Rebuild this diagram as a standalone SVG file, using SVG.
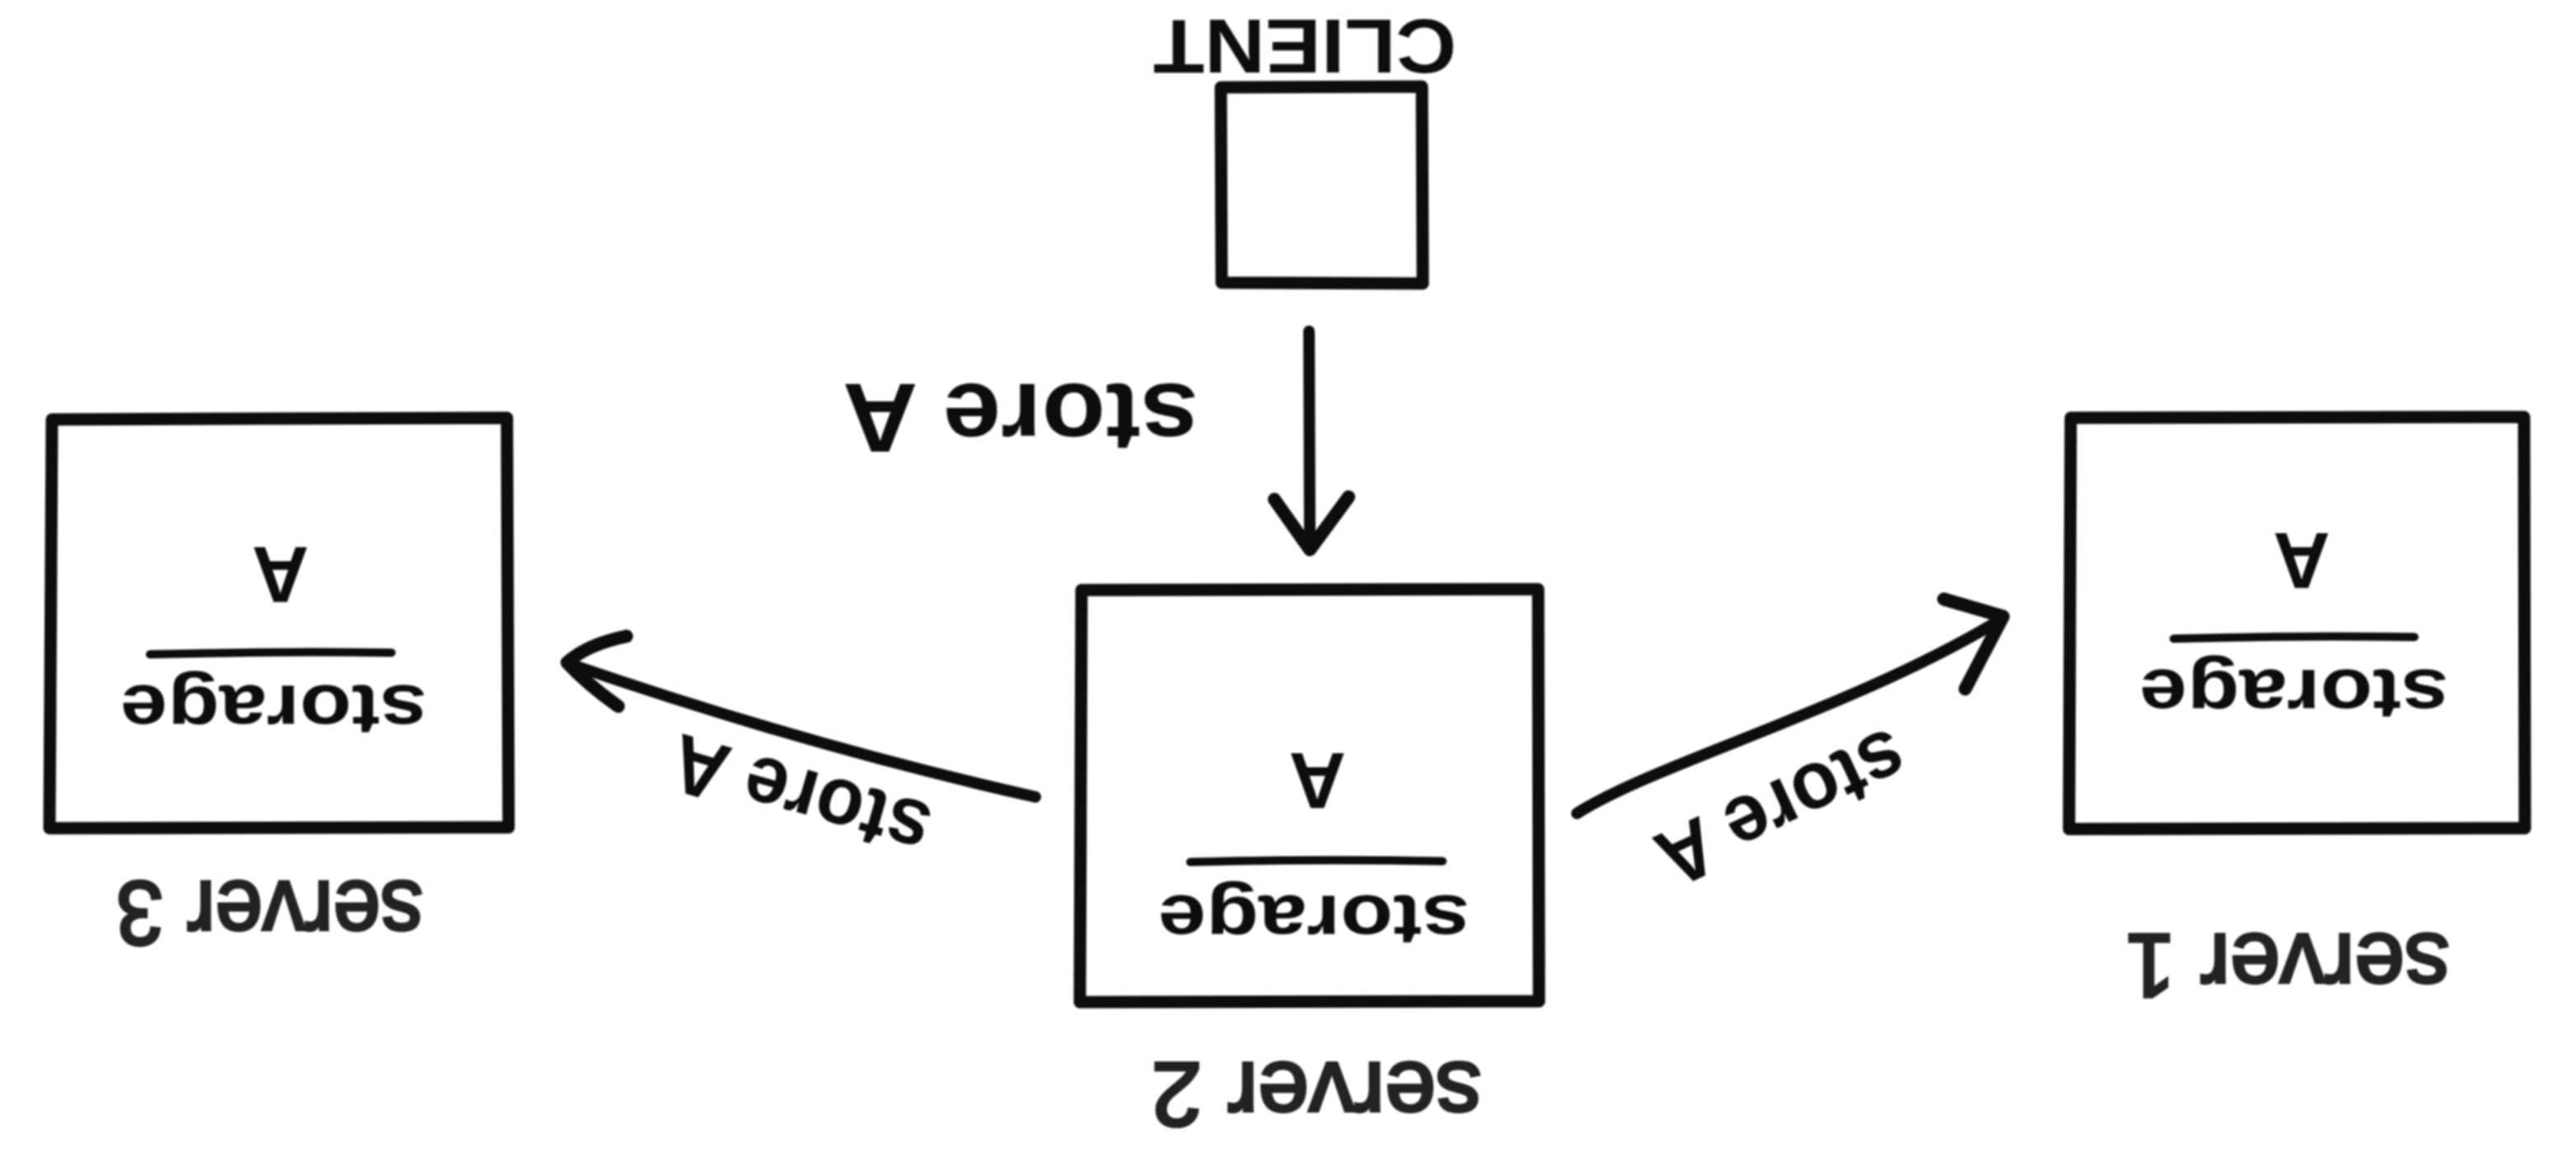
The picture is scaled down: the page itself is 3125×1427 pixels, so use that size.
<svg xmlns="http://www.w3.org/2000/svg" width="3125" height="1427" viewBox="0 0 3125 1427">
  <defs>
    <filter id="soft" x="-2%" y="-2%" width="104%" height="104%">
      <feGaussianBlur stdDeviation="1.2"/>
    </filter>
    <style>
      .box { fill: none; stroke: #111; stroke-width: 15; stroke-linejoin: round; stroke-linecap: round; }
      .rule { fill: none; stroke: #111; stroke-width: 10; stroke-linecap: round; }
      .wire { fill: none; stroke: #111; stroke-width: 14; stroke-linecap: round; stroke-linejoin: round; }
      .head { fill: none; stroke: #111; stroke-width: 16; stroke-linecap: round; stroke-linejoin: round; }
      .hand { font-family: "Liberation Sans", "DejaVu Sans", sans-serif; font-weight: bold; fill: #111; text-anchor: middle; }
      .name { font-family: "Liberation Sans", "DejaVu Sans", sans-serif; font-weight: normal; fill: #222; stroke: #222; stroke-width: 4; text-anchor: middle; }
    </style>
  </defs>
  <rect width="3125" height="1427" fill="#fff"/>
  <g filter="url(#soft)">
    <!-- client -->
    <g id="client">
      <path class="box" d="M1481,106 L1725,105 L1726,344 L1482,343 Z"/>
      <text class="hand" font-size="93" textLength="368" lengthAdjust="spacingAndGlyphs" transform="translate(1583 24) rotate(180)">CLIENT</text>
    </g>

    <!-- server 3 -->
    <g id="server3">
      <path class="box" d="M63,509 L615,507 L617,1004 L60,1005 Z"/>
      <text class="hand" font-size="96" transform="translate(340 698) rotate(180)" y="34">A</text>
      <path class="rule" d="M182,794 Q330,790 475,792"/>
      <text class="hand" font-size="88" textLength="372" lengthAdjust="spacingAndGlyphs" transform="translate(332 855) rotate(180)" y="23">storage</text>
      <text class="name" font-size="110" textLength="372" lengthAdjust="spacingAndGlyphs" transform="translate(327 1100) rotate(180)" y="30">server 3</text>
    </g>

    <!-- server 2 -->
    <g id="server2">
      <path class="box" d="M1312,716 L1866,715 L1867,1215 L1310,1216 Z"/>
      <text class="hand" font-size="96" transform="translate(1598 948) rotate(180)" y="34">A</text>
      <path class="rule" d="M1444,1046 Q1600,1042 1750,1045"/>
      <text class="hand" font-size="88" textLength="378" lengthAdjust="spacingAndGlyphs" transform="translate(1594 1110) rotate(180)" y="23">storage</text>
      <text class="name" font-size="110" textLength="400" lengthAdjust="spacingAndGlyphs" transform="translate(1597 1320) rotate(180)" y="30">server 2</text>
    </g>

    <!-- server 1 -->
    <g id="server1">
      <path class="box" d="M2512,507 L3062,506 L3063,1005 L2510,1006 Z"/>
      <text class="hand" font-size="96" transform="translate(2792 681) rotate(180)" y="34">A</text>
      <path class="rule" d="M2637,775 Q2780,771 2929,773"/>
      <text class="hand" font-size="88" textLength="375" lengthAdjust="spacingAndGlyphs" transform="translate(2783 836) rotate(180)" y="23">storage</text>
      <text class="name" font-size="110" textLength="393" lengthAdjust="spacingAndGlyphs" transform="translate(2775 1164) rotate(180)" y="30">server 1</text>
    </g>

    <!-- connectors -->
    <g id="connectors">
      <!-- client to server 2 -->
      <path class="wire" d="M1588,402 L1589,664"/>
      <path class="head" d="M1546,606 L1589,667 L1636,603"/>
      <text class="hand" font-size="118" textLength="432" lengthAdjust="spacingAndGlyphs" transform="translate(1238 466) rotate(180)">store A</text>

      <!-- server 2 to server 3 -->
      <path class="wire" d="M1256,967 Q980,905 692,806"/>
      <path class="head" d="M760,772 Q712,782 688,804 Q712,830 750,857"/>
      <text class="hand" font-size="100" textLength="322" lengthAdjust="spacingAndGlyphs" transform="translate(972 963) rotate(196)" y="30">store A</text>

      <!-- server 2 to server 1 -->
      <path class="wire" d="M1913,987 C2010,925 2250,860 2430,750"/>
      <path class="head" d="M2358,727 L2430,748 L2384,836"/>
      <text class="hand" font-size="100" textLength="322" lengthAdjust="spacingAndGlyphs" transform="translate(2160 977) rotate(155)" y="30">store A</text>
    </g>
  </g>
</svg>
